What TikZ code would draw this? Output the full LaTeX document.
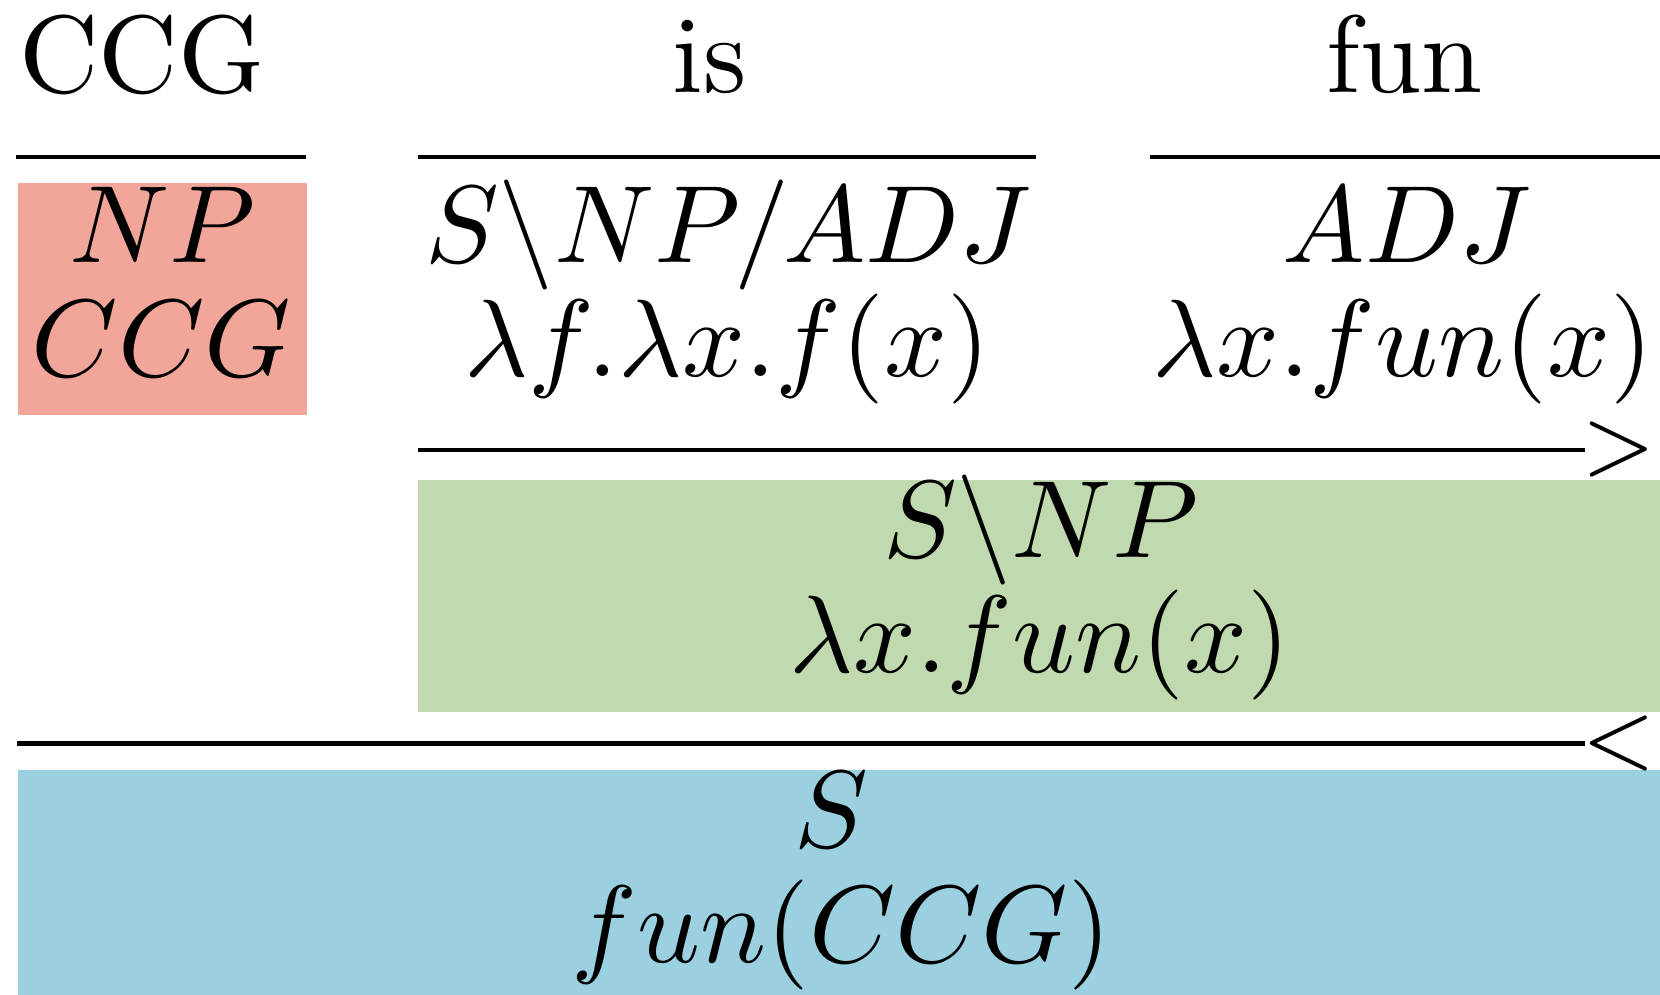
\documentclass[tikz,border=0pt]{standalone}
\usepackage{amsmath, amssymb}
\usepackage{xcolor}
\usepackage{tikz}
\usetikzlibrary{positioning}
\definecolor{npred}{RGB}{242, 166, 154}
\definecolor{fwdgreen}{RGB}{193, 217, 175}
\definecolor{bwdblue}{RGB}{154, 208, 223}

\begin{document}
\begin{tikzpicture}[
    x=1pt, y=1pt,
    word/.style={anchor=base, inner sep=0pt},
    cat/.style={anchor=base, inner sep=0pt},
    rule/.style={line width=0.4pt, black},
    combo/.style={anchor=center, inner sep=0pt, font=\footnotesize}
]
    \useasboundingbox (0, 0) rectangle (150.9, -90.45);

    % --- Coloured cells ---
    \fill[npred] (1.6, -16.6) rectangle (27.9, -37.7);
    \fill[fwdgreen] (38.0, -43.6) rectangle (150.9, -64.7);
    \fill[bwdblue] (1.6, -70.0) rectangle (150.9, -90.45);

    % --- Words ---
    \node[word] (w-ccg) at (12.9, -8.45) {CCG};
    \node[word] (w-is) at (64.5, -8.45) {is};
    \node[word] (w-fun) at (127.7, -8.45) {fun};

    % --- Lexical rules ---
    \draw[rule] (1.45, -14.27) -- (27.8, -14.27);
    \draw[rule] (38.0, -14.27) -- (94.2, -14.27);
    \draw[rule] (104.5, -14.27) -- (150.9, -14.27);

    % --- Lexical categories ---
    \node[cat] (np-cat) at (14.8, -23.9) {$NP$};
    \node[cat] (np-sem) at (14.7, -34.2) {$CCG$};
    \node[cat] (is-cat) at (66.2, -23.9) {$S\backslash NP/ADJ$};
    \node[cat] (is-sem) at (66.1, -34.2) {$\lambda f.\lambda x.f(x)$};
    \node[cat] (adj-cat) at (127.9, -23.9) {$ADJ$};
    \node[cat] (adj-sem) at (127.5, -34.2) {$\lambda x.fun(x)$};

    % --- Forward application ---
    \draw[rule] (38.0, -40.9) -- (144.1, -40.9);
    \node[combo] (fwd) at (147.2, -40.9) {$>$};
    \node[cat] (vp-cat) at (94.6, -50.7) {$S\backslash NP$};
    \node[cat] (vp-sem) at (94.5, -61.1) {$\lambda x.fun(x)$};

    % --- Backward application ---
    \draw[rule] (1.55, -67.6) -- (144.1, -67.6);
    \node[combo] (bwd) at (147.2, -67.6) {$<$};
    \node[cat] (s-cat) at (75.6, -77.0) {$S$};
    \node[cat] (s-sem) at (76.5, -87.5) {$fun(CCG)$};

\end{tikzpicture}
\end{document}
